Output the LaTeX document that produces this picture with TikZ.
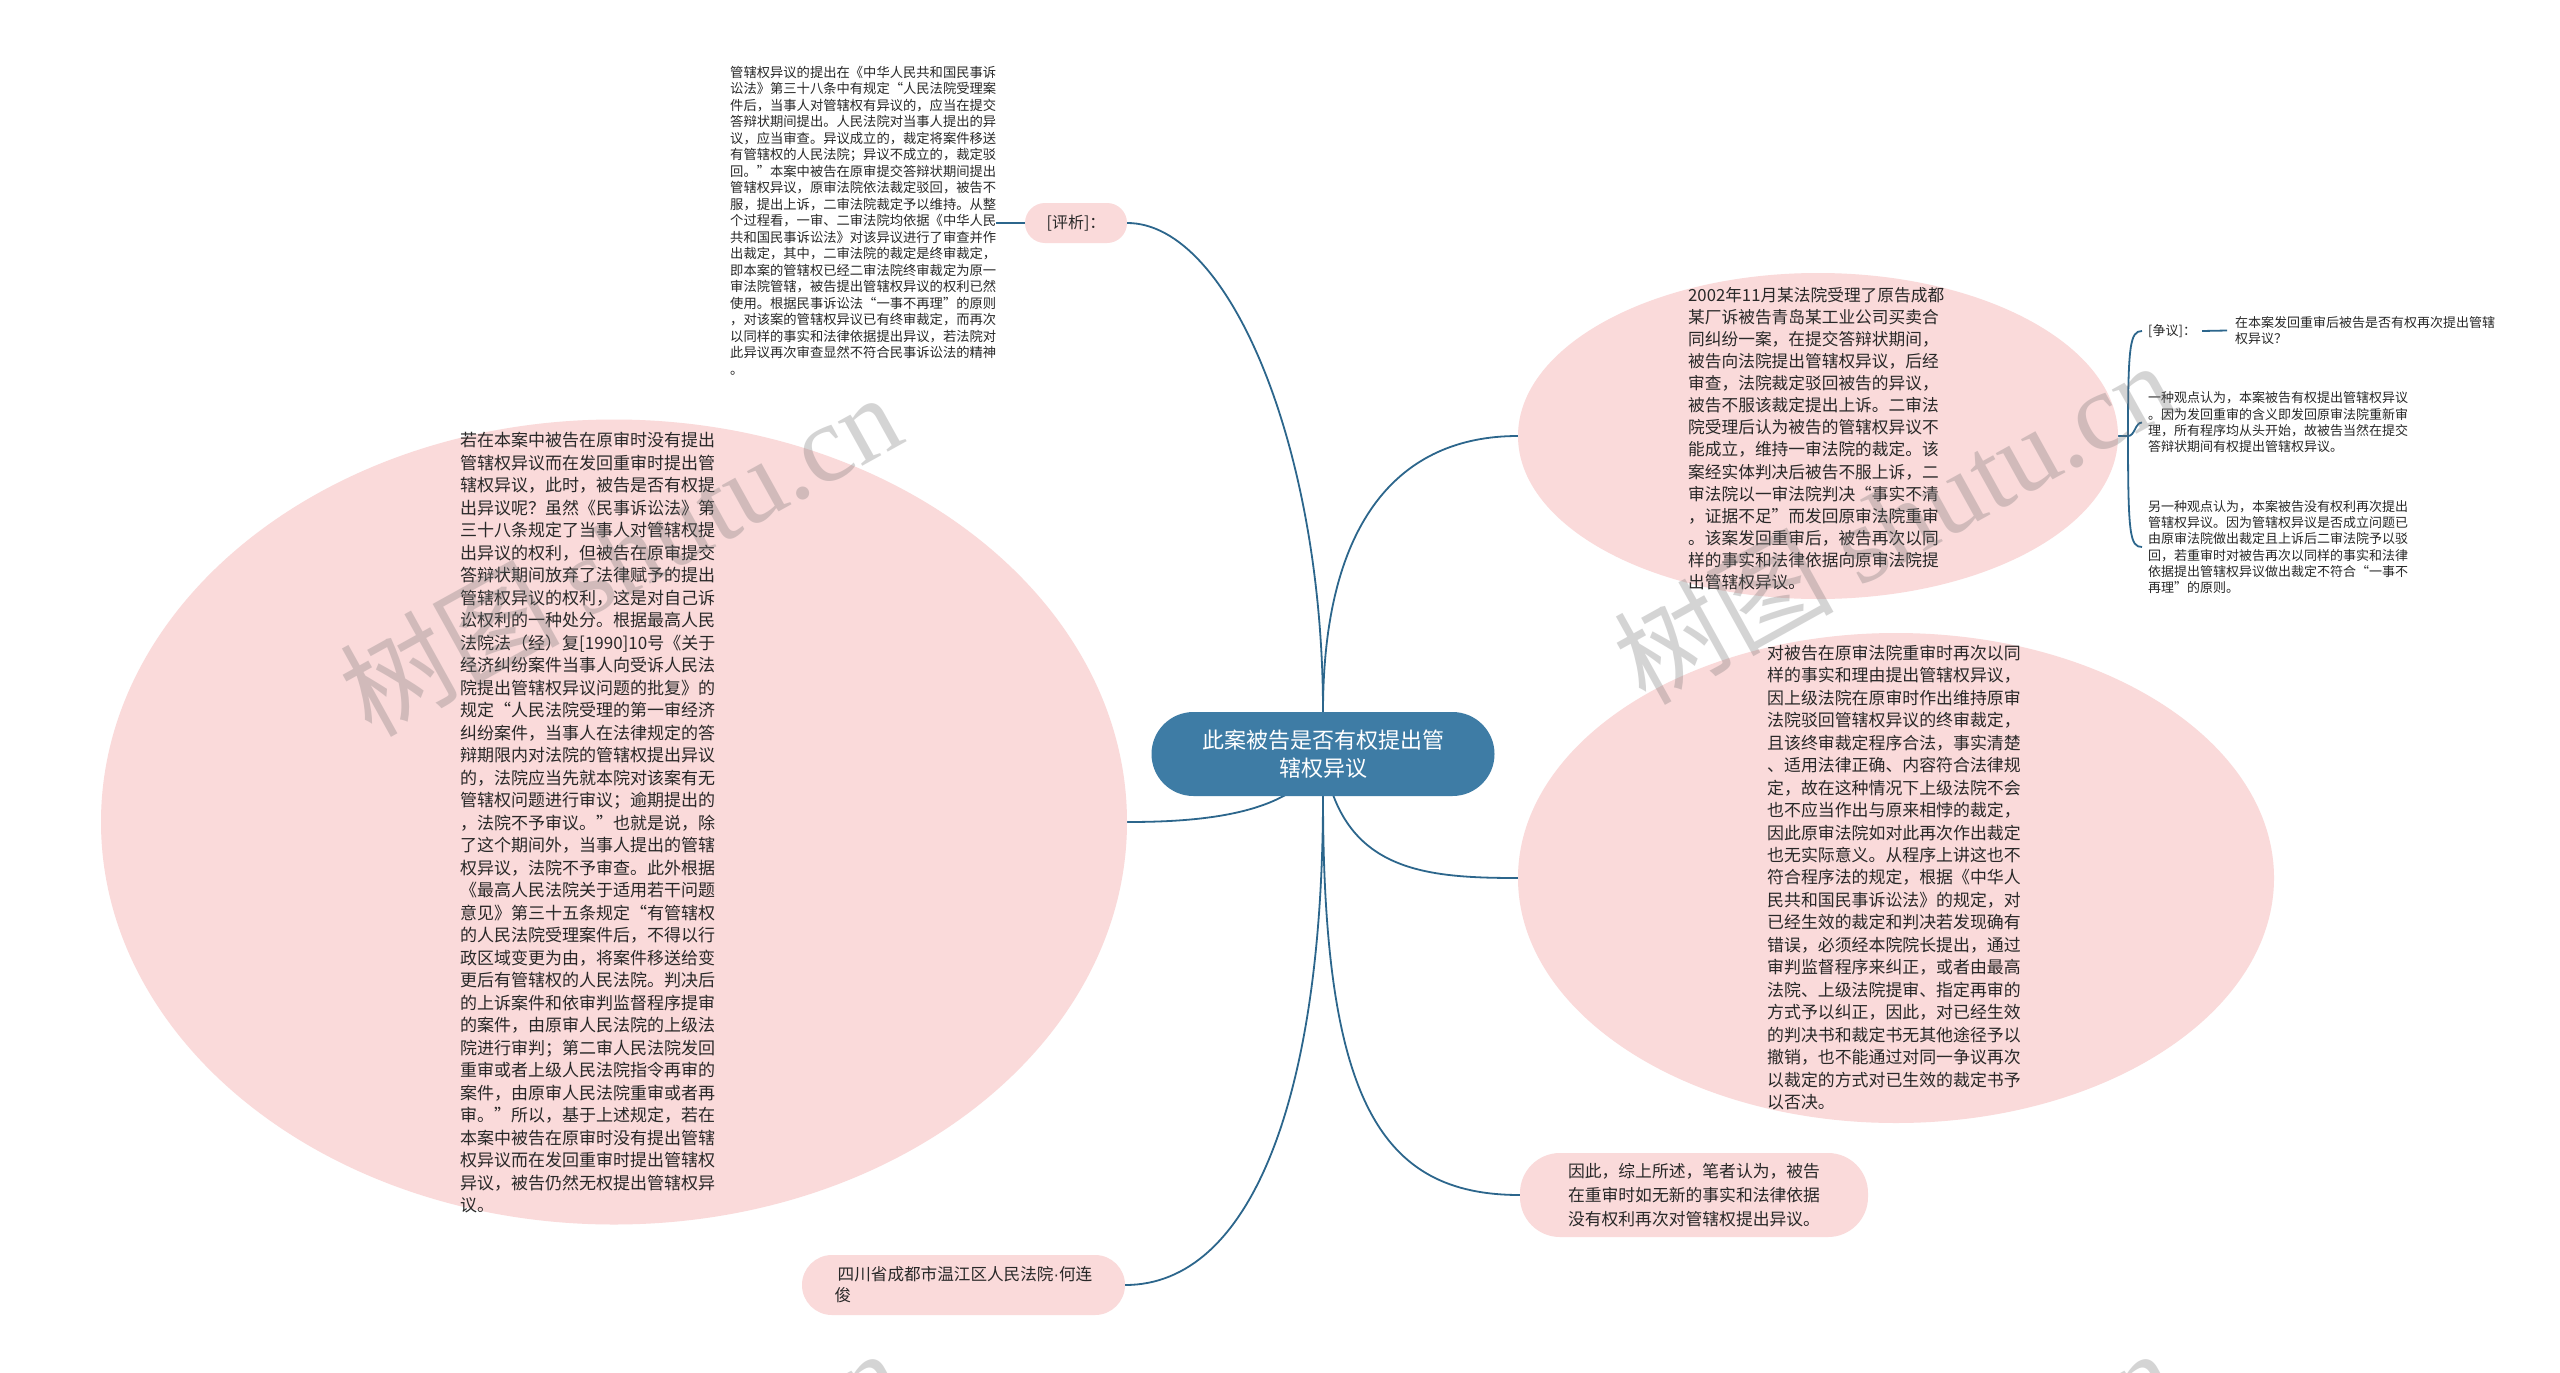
\documentclass[tikz,border=0pt]{standalone}
\usepackage{fontspec}
\setmainfont{Noto Sans CJK SC}
\newfontfamily\wmlatin{Liberation Serif}
\newfontfamily\latinsans{Liberation Sans}
\usetikzlibrary{shapes.geometric}
\definecolor{pinkfill}{RGB}{250,218,218}
\definecolor{centerblue}{RGB}{62,124,165}
\definecolor{linkblue}{RGB}{44,102,140}
\definecolor{txt}{RGB}{40,40,40}
\pgfdeclarelayer{bg}
\pgfsetlayers{bg,main}
\tikzset{
  bubble/.style={ellipse, fill=pinkfill, draw=none, inner sep=0pt},
  pill/.style={rectangle, rounded corners=#1, fill=pinkfill, draw=none, text=txt, align=left},
  bigtext/.style={anchor=west, inner sep=0pt, align=left, text=txt, font=\fontsize{17}{22.5}\selectfont},
  smalltext/.style={anchor=west, inner sep=0pt, align=left, text=txt, font=\fontsize{13.3}{16.5}\selectfont},
  sidetext/.style={anchor=west, inner xsep=6pt, inner ysep=1pt, align=left, text=txt, font=\fontsize{13}{16.3}\selectfont},
  link/.style={draw=linkblue, line width=1.8pt},
  wm/.style={rotate=29, anchor=west, text=black!55, opacity=0.3, inner sep=0pt, font=\fontsize{110}{110}\selectfont}
}
\begin{document}
\begin{tikzpicture}[x=1pt,y=-1pt]
\useasboundingbox (0,0) rectangle (2560,1373);
\begin{pgfonlayer}{bg}
\fill[white] (0,0) rectangle (2560,1373);
\end{pgfonlayer}

% central topic
\node[fill=centerblue, rounded corners=42pt, minimum width=343pt, minimum height=84pt,
      text=white, align=center, font=\fontsize{22}{28}\selectfont] (C) at (1323,754)
  {此案被告是否有权提出管\\辖权异议};

% [评析]
\node[pill=20pt, minimum width=102pt, minimum height=40pt, font=\fontsize{16}{20}\selectfont] (PX) at (1076,223) {[评析]：};
\node[smalltext] (TB) at (730,220.5) {管辖权异议的提出在《中华人民共和国民事诉\\讼法》第三十八条中有规定“人民法院受理案\\件后，当事人对管辖权有异议的，应当在提交\\答辩状期间提出。人民法院对当事人提出的异\\议，应当审查。异议成立的，裁定将案件移送\\有管辖权的人民法院；异议不成立的，裁定驳\\回。”本案中被告在原审提交答辩状期间提出\\管辖权异议，原审法院依法裁定驳回，被告不\\服，提出上诉，二审法院裁定予以维持。从整\\个过程看，一审、二审法院均依据《中华人民\\共和国民事诉讼法》对该异议进行了审查并作\\出裁定，其中，二审法院的裁定是终审裁定，\\即本案的管辖权已经二审法院终审裁定为原一\\审法院管辖，被告提出管辖权异议的权利已然\\使用。根据民事诉讼法“一事不再理”的原则\\，对该案的管辖权异议已有终审裁定，而再次\\以同样的事实和法律依据提出异议，若法院对\\此异议再次审查显然不符合民事诉讼法的精神\\。};

% left big ellipse
\node[bubble, minimum width=1026pt, minimum height=805pt] (L) at (614,822) {};
\node[bigtext] (Lt) at (460,823) {若在本案中被告在原审时没有提出\\管辖权异议而在发回重审时提出管\\辖权异议，此时，被告是否有权提\\出异议呢？虽然《民事诉讼法》第\\三十八条规定了当事人对管辖权提\\出异议的权利，但被告在原审提交\\答辩状期间放弃了法律赋予的提出\\管辖权异议的权利，这是对自己诉\\讼权利的一种处分。根据最高人民\\法院法（经）复[1990]10号《关于\\经济纠纷案件当事人向受诉人民法\\院提出管辖权异议问题的批复》的\\规定“人民法院受理的第一审经济\\纠纷案件，当事人在法律规定的答\\辩期限内对法院的管辖权提出异议\\的，法院应当先就本院对该案有无\\管辖权问题进行审议；逾期提出的\\，法院不予审议。”也就是说，除\\了这个期间外，当事人提出的管辖\\权异议，法院不予审查。此外根据\\《最高人民法院关于适用若干问题\\意见》第三十五条规定“有管辖权\\的人民法院受理案件后，不得以行\\政区域变更为由，将案件移送给变\\更后有管辖权的人民法院。判决后\\的上诉案件和依审判监督程序提审\\的案件，由原审人民法院的上级法\\院进行审判；第二审人民法院发回\\重审或者上级人民法院指令再审的\\案件，由原审人民法院重审或者再\\审。”所以，基于上述规定，若在\\本案中被告在原审时没有提出管辖\\权异议而在发回重审时提出管辖权\\异议，被告仍然无权提出管辖权异\\议。};

% bottom left
\node[pill=30pt, minimum width=323pt, minimum height=60pt, font=\fontsize{16.6}{21}\selectfont] (BL) at (963.5,1285) {\hspace{3pt}四川省成都市温江区人民法院{\latinsans ·}何连\\俊};

% right top ellipse
\node[bubble, minimum width=600pt, minimum height=326pt] (RT) at (1818,436) {};
\node[bigtext, font=\fontsize{16.7}{22.1}\selectfont] (RTt) at (1688,438.5) {2002年11月某法院受理了原告成都\\某厂诉被告青岛某工业公司买卖合\\同纠纷一案，在提交答辩状期间，\\被告向法院提出管辖权异议，后经\\审查，法院裁定驳回被告的异议，\\被告不服该裁定提出上诉。二审法\\院受理后认为被告的管辖权异议不\\能成立，维持一审法院的裁定。该\\案经实体判决后被告不服上诉，二\\审法院以一审法院判决“事实不清\\，证据不足”而发回原审法院重审\\。该案发回重审后，被告再次以同\\样的事实和法律依据向原审法院提\\出管辖权异议。};

% children of right top
\node[sidetext] (ZY) at (2142,331) {[争议]：};
\node[sidetext, inner xsep=8pt] (Q) at (2227,330.5) {在本案发回重审后被告是否有权再次提出管辖\\权异议？};
\node[sidetext] (V1) at (2142,422.5) {一种观点认为，本案被告有权提出管辖权异议\\。因为发回重审的含义即发回原审法院重新审\\理，所有程序均从头开始，故被告当然在提交\\答辩状期间有权提出管辖权异议。};
\node[sidetext] (V2) at (2142,547) {另一种观点认为，本案被告没有权利再次提出\\管辖权异议。因为管辖权异议是否成立问题已\\由原审法院做出裁定且上诉后二审法院予以驳\\回，若重审时对被告再次以同样的事实和法律\\依据提出管辖权异议做出裁定不符合“一事不\\再理”的原则。};
\coordinate (RTb) at (2128,436);

% right middle ellipse
\node[bubble, minimum width=756pt, minimum height=490pt] (RM) at (1896,878) {};
\node[bigtext, font=\fontsize{16.9}{22.45}\selectfont] (RMt) at (1767,877.5) {对被告在原审法院重审时再次以同\\样的事实和理由提出管辖权异议，\\因上级法院在原审时作出维持原审\\法院驳回管辖权异议的终审裁定，\\且该终审裁定程序合法，事实清楚\\、适用法律正确、内容符合法律规\\定，故在这种情况下上级法院不会\\也不应当作出与原来相悖的裁定，\\因此原审法院如对此再次作出裁定\\也无实际意义。从程序上讲这也不\\符合程序法的规定，根据《中华人\\民共和国民事诉讼法》的规定，对\\已经生效的裁定和判决若发现确有\\错误，必须经本院院长提出，通过\\审判监督程序来纠正，或者由最高\\法院、上级法院提审、指定再审的\\方式予以纠正，因此，对已经生效\\的判决书和裁定书无其他途径予以\\撤销，也不能通过对同一争议再次\\以裁定的方式对已生效的裁定书予\\以否决。};

% bottom right
\node[pill=40pt, minimum width=348pt, minimum height=84pt, font=\fontsize{16.8}{24}\selectfont] (BR) at (1694,1195) {因此，综上所述，笔者认为，被告\\在重审时如无新的事实和法律依据\\没有权利再次对管辖权提出异议。};

% connectors
\begin{pgfonlayer}{bg}
\draw[link] (PX.east) .. controls (1230,223) and (1323,450) .. (C.north);
\draw[link] (TB.east |- PX.west) -- (PX.west);
\draw[link] (C.center) .. controls (1300,815) and (1200,822) .. (L.east);
\draw[link] (C.south) .. controls (1323,1100) and (1250,1285) .. (BL.east);
\draw[link] (C.north) .. controls (1323,520) and (1400,436) .. (RT.west);
\draw[link] (C.center) .. controls (1340,870) and (1420,878) .. (RM.west);
\draw[link] (C.south) .. controls (1323,1100) and (1380,1195) .. (BR.west);
\draw[link] (RT.east) -- (RTb);
\draw[link] (RTb) .. controls (2128,345) and (2130,331) .. (ZY.west);
\draw[link] (RTb) .. controls (2135,436) and (2135,422.5) .. (V1.west);
\draw[link] (RTb) .. controls (2128,535) and (2130,547) .. (V2.west);
\draw[link] (ZY.east) -- (Q.west);
\end{pgfonlayer}

% watermarks
\begin{scope}
\clip (0,0) rectangle (2560,1373);
\node[wm] (W1) at (351,702) {树图 {\wmlatin shutu.cn}};
\node[wm] (W2) at (1625,670) {树图 {\wmlatin shutu.cn}};
\node[wm] (W3) at (352,1658) {树图 {\wmlatin shutu.cn}};
\node[wm] (W4) at (1625,1658) {树图 {\wmlatin shutu.cn}};
\end{scope}
\end{tikzpicture}
\end{document}
